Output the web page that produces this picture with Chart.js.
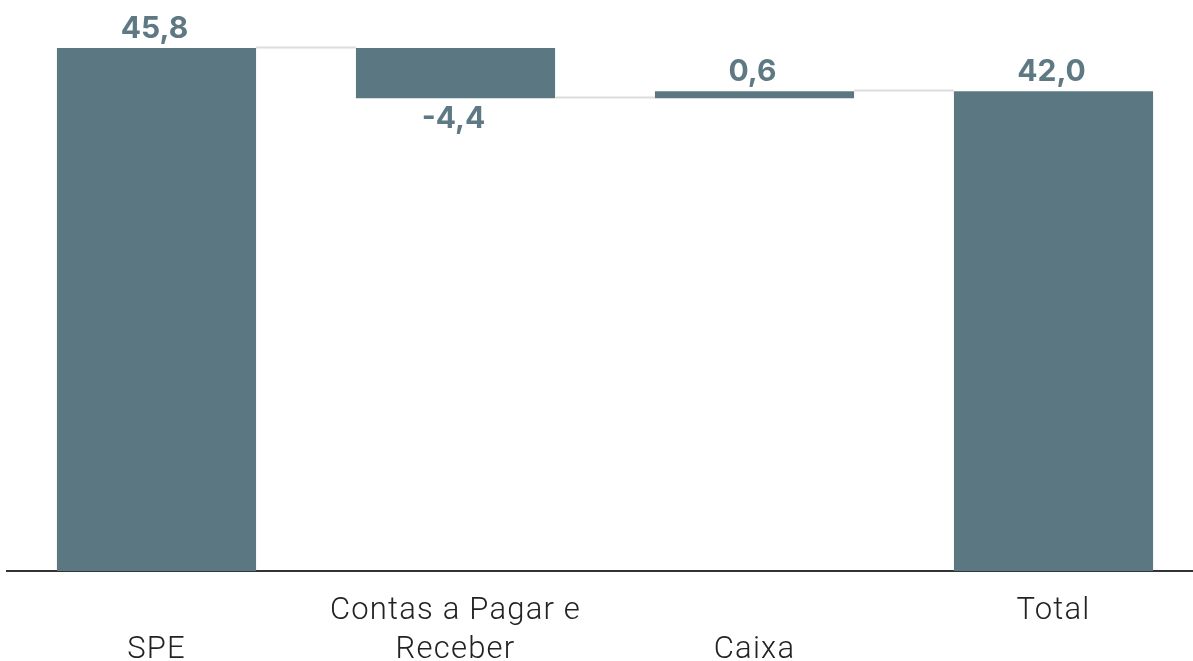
<!DOCTYPE html>
<html>
<head>
<meta charset="utf-8">
<script src="https://cdn.jsdelivr.net/npm/chart.js@4.4.1/dist/chart.umd.min.js"></script>
<style>
  html, body { margin: 0; padding: 0; background: #fff; overflow: hidden; }
  #wrap { width: 1203px; height: 661px; position: relative; }
</style>
</head>
<body>
<div id="wrap"><canvas id="waterfall"></canvas></div>
<script>
// ---- data ----
const categories = [["", "SPE"], ["Contas a Pagar e", "Receber"], ["", "Caixa"], ["Total", ""]];
const deltas = [45.8, -4.4, 0.6, 42.0];
const isTotal = [false, false, false, true];

const barColor = "#5b7781";
const labelColor = "#5e7884";

// build floating bars [start, end] from the deltas
let running = 0;
const floating = deltas.map((v, i) => {
  if (isTotal[i]) { running = v; return [0, v]; }
  const start = running;
  running += v;
  return [start, running];
});

const fmt = v => v.toFixed(1).replace(".", ",");

// wider spacing for the category labels
const spacing = {
  id: "spacing",
  beforeDraw(chart) { chart.ctx.letterSpacing = "1.2px"; },
  afterDraw(chart) { chart.ctx.letterSpacing = "0px"; }
};

// connector lines between consecutive bars
const connectors = {
  id: "connectors",
  afterDatasetsDraw(chart) {
    const ctx = chart.ctx;
    const meta = chart.getDatasetMeta(0);
    const y = chart.scales.y;
    ctx.save();
    ctx.strokeStyle = "#dcdcdc";
    ctx.lineWidth = 2;
    for (let i = 0; i < meta.data.length - 1; i++) {
      const a = meta.data[i], b = meta.data[i + 1];
      const level = floating[i][1];
      const py = Math.round(y.getPixelForValue(level)) - 0.5;
      ctx.beginPath();
      ctx.moveTo(a.x + a.width / 2, py);
      ctx.lineTo(b.x - b.width / 2, py);
      ctx.stroke();
    }
    ctx.restore();
  }
};

// value labels above / below bars
const valueLabels = {
  id: "valueLabels",
  afterDatasetsDraw(chart) {
    const ctx = chart.ctx;
    const meta = chart.getDatasetMeta(0);
    const y = chart.scales.y;
    ctx.save();
    ctx.letterSpacing = "0px";
    ctx.fillStyle = labelColor;
    ctx.font = "700 30px Inter, 'Liberation Sans', sans-serif";
    ctx.textAlign = "center";
    ctx.textBaseline = "middle";
    meta.data.forEach((bar, i) => {
      const [s, e] = floating[i];
      if (deltas[i] < 0) {
        ctx.fillText(fmt(deltas[i]), bar.x - 2, y.getPixelForValue(Math.min(s, e)) + 21);
      } else {
        ctx.fillText(fmt(deltas[i]), bar.x - 2, y.getPixelForValue(Math.max(s, e)) - 19);
      }
    });
    ctx.restore();
  }
};

new Chart(document.getElementById("waterfall").getContext("2d"), {
  type: "bar",
  data: {
    labels: categories,
    datasets: [{
      data: floating,
      backgroundColor: barColor,
      borderWidth: 0,
      barPercentage: 0.666,
      categoryPercentage: 1.0
    }]
  },
  options: {
    responsive: true,
    maintainAspectRatio: false,
    animation: false,
    layout: { padding: { left: 7, right: 0, top: 0, bottom: 0 } },
    plugins: {
      legend: { display: false },
      tooltip: { enabled: false }
    },
    scales: {
      x: {
        grid: { display: false, drawTicks: false },
        border: { display: true, color: "#333333", width: 2 },
        ticks: {
          padding: 21,
          color: "#222222",
          maxRotation: 0,
          autoSkip: false,
          font: { family: "Roboto, 'Noto Sans', sans-serif", size: 31, weight: "300", lineHeight: "39px" }
        },
        afterFit(scale) { scale.height = 90; }
      },
      y: {
        display: false,
        min: 0,
        max: 50
      }
    }
  },
  plugins: [spacing, connectors, valueLabels]
});
</script>
</body>
</html>
